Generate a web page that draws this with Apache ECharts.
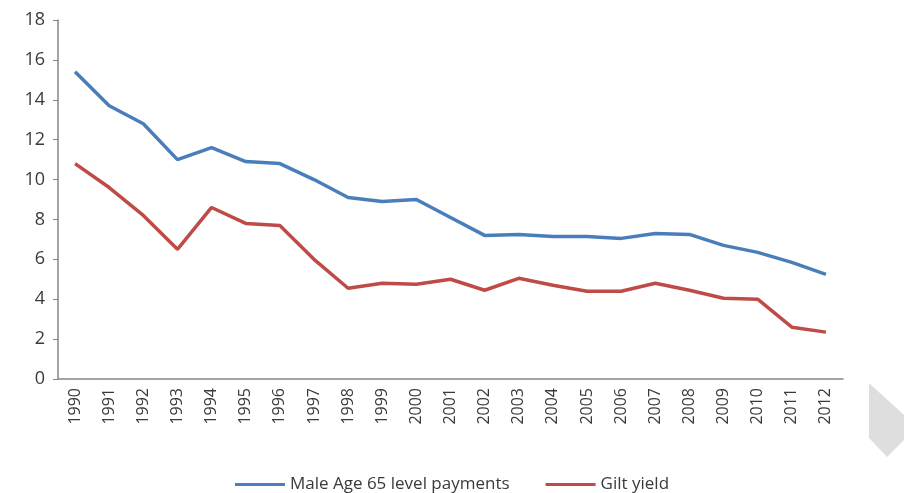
<!DOCTYPE html>
<html>
<head>
<meta charset="utf-8">
<script src="https://cdn.jsdelivr.net/npm/echarts@6/dist/echarts.min.js"></script>
<style>
  html, body { margin: 0; padding: 0; background: #fff; }
  #chart { width: 904px; height: 493px; }
</style>
</head>
<body>
<div id="chart"></div>
<script>
const years = ['1990', '1991', '1992', '1993', '1994', '1995', '1996', '1997', '1998', '1999', '2000', '2001',
    '2002', '2003', '2004', '2005', '2006', '2007', '2008', '2009', '2010', '2011', '2012']
const malePayments = [15.4, 13.7, 12.8, 11.0, 11.6, 10.9, 10.8, 10.0, 9.1, 8.9, 9.0, 8.1,
    7.2, 7.25, 7.15, 7.15, 7.05, 7.3, 7.25, 6.7, 6.35, 5.85, 5.25]
const giltYield = [10.8, 9.6, 8.2, 6.5, 8.6, 7.8, 7.7, 6.0, 4.55, 4.8, 4.75, 5.0,
    4.45, 5.05, 4.7, 4.4, 4.4, 4.8, 4.45, 4.05, 4.0, 2.6, 2.35]
const seriesNames = ['Male Age 65 level payments', 'Gilt yield']

const chart = echarts.init(document.getElementById('chart'))
const axisGrey = '#868686'
const textGrey = '#3a3a3a'

const option = {
    animation: false,
    grid: { left: 58, right: 61, top: 20, bottom: 114 },
    legend: {
        top: 471,
        left: 'center',
        itemWidth: 50,
        itemHeight: 3,
        itemGap: 36,
        icon: 'rect',
        textStyle: { fontFamily: 'Open Sans', fontSize: 17, color: textGrey },
        data: seriesNames
    },
    xAxis: {
        type: 'category',
        data: years,
        axisLine: { lineStyle: { color: axisGrey, width: 1.5 } },
        axisTick: { length: 5, lineStyle: { color: axisGrey } },
        axisLabel: {
            rotate: 90,
            interval: 0,
            margin: 9,
            fontFamily: 'Open Sans',
            fontSize: 16,
            color: textGrey
        }
    },
    yAxis: {
        type: 'value',
        min: 0,
        max: 18,
        interval: 2,
        splitLine: { show: false },
        axisLine: { show: true, lineStyle: { color: axisGrey, width: 1.5 } },
        axisTick: { show: true, length: 5, lineStyle: { color: axisGrey } },
        axisLabel: {
            margin: 13,
            fontFamily: 'Open Sans',
            fontSize: 18,
            color: textGrey
        }
    },
    series: [
        {
            name: seriesNames[0],
            type: 'line',
            data: malePayments,
            showSymbol: false,
            lineStyle: { color: '#4A7EBB', width: 3.5 },
            itemStyle: { color: '#4A7EBB' }
        },
        {
            name: seriesNames[1],
            type: 'line',
            data: giltYield,
            showSymbol: false,
            lineStyle: { color: '#BE4B48', width: 3.5 },
            itemStyle: { color: '#BE4B48' }
        }
    ],
    graphic: {
        elements: [{
            // grey page-curl shape at the right edge
            type: 'polygon',
            shape: { points: [[869, 383], [904, 415], [904, 440], [887, 457], [869, 438]] },
            style: { fill: '#dedede' },
            z: -1
        }]
    }
}

chart.setOption(option)
</script>
</body>
</html>
